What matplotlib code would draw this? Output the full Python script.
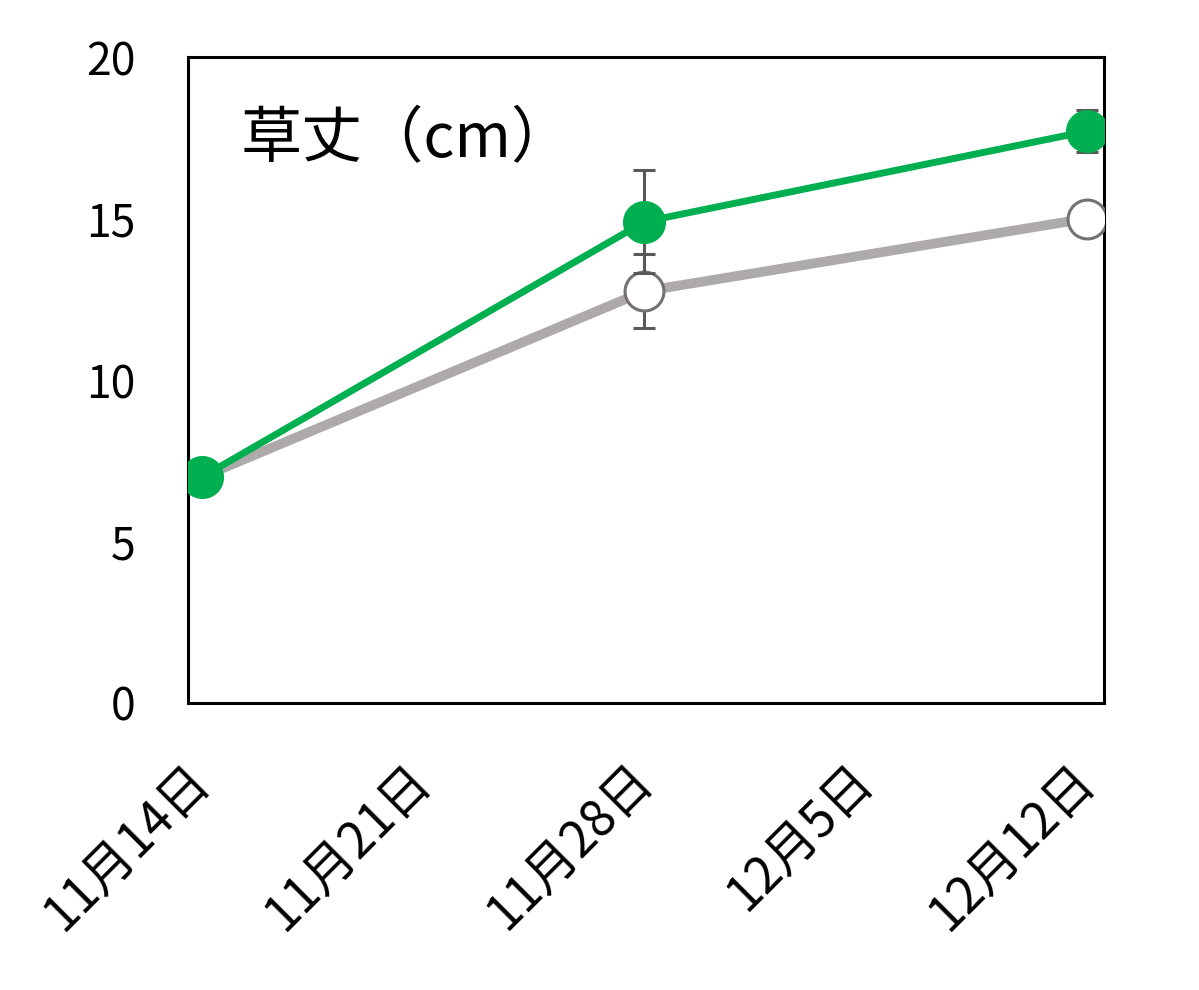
import numpy as np
import pandas as pd
import matplotlib
matplotlib.use("Agg")
import matplotlib.pyplot as plt

plt.rcParams['font.family'] = ['Noto Sans CJK JP', 'DejaVu Sans']

# data
dates = ["2020-11-14", "2020-11-28", "2020-12-12"]
green_vals = [7.0, 14.9, 17.7]
green_err = [0.0, 1.6, 0.65]
grey_vals = [7.0, 12.75, 15.0]
grey_err = [0.0, 1.15, 0.0]
tick_dates = ["2020-11-14", "2020-11-21", "2020-11-28", "2020-12-05", "2020-12-12"]
title = "草丈（cm）"

d0 = pd.Timestamp(dates[0])
x = np.array([(pd.Timestamp(d) - d0).days for d in dates])
xt = np.array([(pd.Timestamp(d) - d0).days for d in tick_dates])
xt_labels = [f"{pd.Timestamp(d).month}月{pd.Timestamp(d).day}日" for d in tick_dates]

fig = plt.figure(figsize=(11.99, 9.9), dpi=100)
ax = fig.add_axes([0.1568, 0.2899, 0.764, 0.6525])

green = "#00B050"
grey = "#AEAAAA"
errc = "#595959"

ax.errorbar(x, grey_vals, yerr=grey_err, fmt="none", ecolor=errc,
            elinewidth=2.2, capsize=8, capthick=2.2, zorder=2)
ax.plot(x, grey_vals, color=grey, lw=7, zorder=3, solid_capstyle="butt")
ax.plot(x, grey_vals, ls="none", marker="o", ms=28, mfc="white",
        mec="#767171", mew=2.2, zorder=4)
ax.errorbar(x, green_vals, yerr=green_err, fmt="none", ecolor=errc,
            elinewidth=2.2, capsize=8, capthick=2.2, zorder=5)
ax.plot(x, green_vals, color=green, lw=5, marker="o", ms=30,
        mfc=green, mec=green, zorder=6)

ax.set_ylim(0, 20)
ax.set_yticks([0, 5, 10, 15, 20])
ax.set_xlim(-0.45, 28.55)
ax.set_xticks(xt)
ax.set_xticklabels(xt_labels, rotation=45, ha="right", va="center",
                   rotation_mode="anchor", fontsize=36)
ax.tick_params(axis="both", length=0)
ax.tick_params(axis="y", labelsize=32, pad=38)
ax.tick_params(axis="x", pad=50)
for s in ax.spines.values():
    s.set_linewidth(2.2)
    s.set_color("black")

ax.text(0.057, 0.871, title, transform=ax.transAxes, fontsize=44,
        ha="left", va="center")

fig.savefig("out.png", dpi=100)
